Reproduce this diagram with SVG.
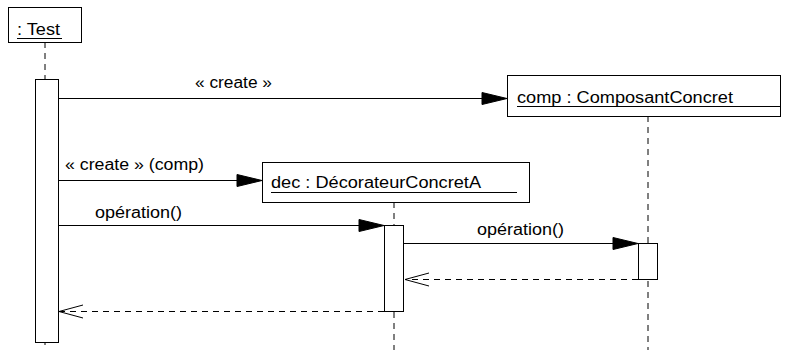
<svg xmlns="http://www.w3.org/2000/svg" width="785" height="350" viewBox="0 0 785 350">
<style>
text{font-family:"Liberation Sans",Arial,sans-serif;font-size:16px;fill:#000}
.box{fill:#fff;stroke:#000;stroke-width:1}
.ul{stroke:#000;stroke-width:1}
.life{stroke:#000;stroke-width:1;stroke-dasharray:6,5;fill:none}
.msg{stroke:#000;stroke-width:1;fill:none}
.ret{stroke:#000;stroke-width:1;stroke-dasharray:6,5;fill:none}
.head{fill:#000;stroke:#000}
.open{fill:none;stroke:#000;stroke-width:1}
</style>
<rect width="785" height="350" fill="#fff"/>
<g id="lifelines">
<line class="life" x1="45" y1="42" x2="45" y2="350"/>
<line class="life" x1="394" y1="202" x2="394" y2="350"/>
<line class="life" x1="648" y1="116" x2="648" y2="350"/>
</g>
<g id="test">
<rect class="box" x="8.5" y="7.5" width="73" height="35"/>
<text x="17" y="35" textLength="43" lengthAdjust="spacingAndGlyphs">: Test</text>
<line class="ul" x1="17" y1="38.5" x2="62" y2="38.5"/>
<rect class="box" x="35.5" y="79.5" width="23" height="263"/>
</g>
<g id="comp">
<rect class="box" x="507.5" y="75.5" width="273" height="41"/>
<text x="517" y="103" textLength="216" lengthAdjust="spacingAndGlyphs">comp : ComposantConcret</text>
<line class="ul" x1="517" y1="106.5" x2="780" y2="106.5"/>
<rect class="box" x="638.5" y="243.5" width="19" height="36"/>
</g>
<g id="dec">
<rect class="box" x="262.5" y="162.5" width="267" height="40"/>
<text x="271" y="188" textLength="210" lengthAdjust="spacingAndGlyphs">dec : DécorateurConcretA</text>
<line class="ul" x1="271" y1="192.5" x2="517" y2="192.5"/>
<rect class="box" x="384.5" y="225.5" width="19" height="86"/>
</g>
<g id="connectors">
<line class="msg" x1="59" y1="98.5" x2="482" y2="98.5"/>
<polygon class="head" points="482,92.5 507,98.5 482,104.5"/>
<text x="195" y="88" textLength="77" lengthAdjust="spacingAndGlyphs">« create »</text>
<line class="msg" x1="59" y1="180.5" x2="237" y2="180.5"/>
<polygon class="head" points="237,174.5 262,180.5 237,186.5"/>
<text x="65" y="170" textLength="139" lengthAdjust="spacingAndGlyphs">« create » (comp)</text>
<line class="msg" x1="59" y1="225.5" x2="359" y2="225.5"/>
<polygon class="head" points="359,219.5 384,225.5 359,231.5"/>
<text x="95" y="218" textLength="87" lengthAdjust="spacingAndGlyphs">opération()</text>
<line class="msg" x1="404" y1="243.5" x2="613" y2="243.5"/>
<polygon class="head" points="613,237.5 638,243.5 613,249.5"/>
<text x="477" y="235" textLength="87" lengthAdjust="spacingAndGlyphs">opération()</text>
<line class="ret" x1="638" y1="279.5" x2="405" y2="279.5"/>
<polyline class="open" points="429,273 405,279.5 429,286"/>
<line class="ret" x1="384" y1="311.5" x2="59" y2="311.5"/>
<polyline class="open" points="83,305 59,311.5 83,318"/>
</g>
</svg>
